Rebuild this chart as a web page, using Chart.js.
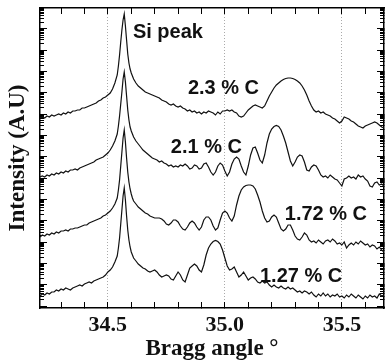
<!DOCTYPE html>
<html>
<head>
<meta charset="utf-8">
<script src="https://cdn.jsdelivr.net/npm/chart.js@4.4.0/dist/chart.umd.min.js"></script>
<style>
  html, body { margin: 0; padding: 0; background: #fff; }
  canvas { display: block; }
</style>
</head>
<body>
<canvas id="xrd-chart" width="386" height="364"></canvas>
<script>
// Bragg angle (deg), denser sampling around the Si peak
const angles = [
  34.21, 34.22, 34.23, 34.24, 34.25, 34.26, 34.27, 34.28, 34.29, 34.30,
  34.31, 34.32, 34.33, 34.34, 34.35, 34.36, 34.37, 34.38, 34.39, 34.40,
  34.41, 34.42, 34.43, 34.44, 34.45, 34.46, 34.47, 34.48, 34.49, 34.50,
  34.51, 34.52, 34.53,
  34.54, 34.545, 34.55, 34.555, 34.56, 34.565, 34.57, 34.575, 34.58, 34.585, 34.59, 34.595, 34.60, 34.605, 34.61,
  34.62, 34.63, 34.64, 34.65, 34.66, 34.67, 34.68, 34.69, 34.70, 34.71,
  34.72, 34.73, 34.74, 34.75, 34.76, 34.77, 34.78, 34.79, 34.80, 34.81,
  34.82, 34.83, 34.84, 34.85, 34.86, 34.87, 34.88, 34.89, 34.90, 34.91,
  34.92, 34.93, 34.94, 34.95, 34.96, 34.97, 34.98, 34.99, 35.00, 35.01,
  35.02, 35.03, 35.04, 35.05, 35.06, 35.07, 35.08, 35.09, 35.10, 35.11,
  35.12, 35.13, 35.14, 35.15, 35.16, 35.17, 35.18, 35.19, 35.20, 35.21,
  35.22, 35.23, 35.24, 35.25, 35.26, 35.27, 35.28, 35.29, 35.30, 35.31,
  35.32, 35.33, 35.34, 35.35, 35.36, 35.37, 35.38, 35.39, 35.40, 35.41,
  35.42, 35.43, 35.44, 35.45, 35.46, 35.47, 35.48, 35.49, 35.50, 35.51,
  35.52, 35.53, 35.54, 35.55, 35.56, 35.57, 35.58, 35.59, 35.60, 35.61,
  35.62, 35.63, 35.64, 35.65, 35.66, 35.67, 35.68
]

// intensity (a.u., curves offset vertically)
const c23 = [
  190, 191, 190, 192, 191, 193, 192, 193, 194, 193,
  195, 194, 196, 195, 197, 197, 198, 198, 200, 200,
  201, 202, 203, 204, 205, 207, 208, 210, 211, 213,
  215, 219, 225,
  233, 242, 253, 266, 278, 288, 294, 282, 268, 254, 245, 239, 235, 232, 229,
  225, 222, 220, 218, 216, 215, 214, 213, 212, 211,
  210, 208, 207, 206, 204, 203, 204, 202, 201, 202,
  200, 199, 197, 198, 196, 197, 195, 196, 194, 196,
  195, 197, 196, 195, 193, 196, 194, 197, 197, 198,
  197, 198, 196, 195, 192, 191, 192, 195, 198, 200,
  202, 203, 202, 201, 200, 202, 207, 212, 216, 220,
  223, 225, 227, 228.5, 229.5, 230, 230, 229.5, 228.5, 227,
  225, 222, 218, 213, 207, 202, 198, 196, 197, 195,
  196, 194, 193, 192, 190, 189, 187, 185, 187, 191,
  190, 189, 187, 186, 184, 182, 181, 180, 182, 183,
  184, 185, 186, 185, 183, 181, 180
]
const c21 = [
  131, 132, 131, 133, 132, 134, 133, 135, 134, 136,
  135, 137, 136, 138, 138, 139, 138, 140, 141, 142,
  143, 144, 145, 146, 148, 149, 150, 151, 153, 155,
  158, 162, 167,
  174, 182, 192, 204, 216, 229, 236, 226, 212, 198, 188, 181, 177, 174, 171,
  167, 164, 161, 158, 156, 154, 152, 150, 149, 148,
  146, 147, 145, 144, 142, 143, 141, 142, 141, 143,
  142, 144, 142, 139, 140, 143, 142, 139, 140, 144,
  145, 141, 136, 133, 136, 142, 145, 143, 137, 132,
  136, 144, 149, 151, 149, 142, 136, 133, 142, 153,
  160, 161, 155, 148, 145, 153, 165, 174, 179, 181.5,
  182.5, 181.5, 178, 172, 165, 156, 147, 142, 146, 151,
  153, 152, 146, 138, 137, 141, 143, 142, 138, 133,
  131, 132, 130, 133, 131, 129, 128, 125, 122, 129,
  130, 132, 130, 131, 129, 133, 131, 132, 129, 127,
  122, 121, 125, 126, 123, 124, 122
]
const c172 = [
  71, 73, 72, 74, 73, 75, 74, 76, 75, 77,
  77, 78, 77, 79, 79, 80, 80, 81, 82, 83,
  83, 85, 86, 87, 88, 89, 90, 92, 93, 95,
  97, 100, 104,
  110, 118, 128, 142, 156, 170, 178, 166, 150, 136, 126, 119, 114, 110, 107,
  104, 101, 99, 97, 95, 94, 92, 91, 90, 90,
  90, 89, 87, 84, 83, 85, 88, 88, 86, 82,
  79, 78, 81, 85, 87, 85, 81, 78, 81, 88,
  91, 91, 88, 82, 78, 80, 88, 95, 97, 95,
  90, 87, 92, 103, 112, 118, 121, 122.5, 123, 123,
  122, 119, 113, 106, 97, 90, 86, 87, 91, 93,
  91, 85, 79, 77, 79, 83, 83, 78, 72, 69,
  68, 71, 75, 73, 68, 66, 67, 65, 68, 66,
  64, 67, 68, 66, 69, 67, 64, 65, 63, 66,
  60, 63, 65, 63, 66, 64, 67, 65, 63, 64,
  61, 63, 62, 59, 61, 58, 56
]
const c127 = [
  12, 14, 13, 15, 14, 16, 16, 18, 17, 19,
  18, 20, 19, 18, 20, 21, 22, 23, 22, 24,
  25, 26, 25, 27, 28, 29, 30, 31, 33, 36,
  38, 41, 46,
  52, 60, 70, 84, 98, 112, 120, 108, 92, 78, 68, 61, 56, 53, 50,
  47, 44, 42, 40, 39, 37, 36, 37, 38, 36,
  33, 31, 32, 33, 32, 29, 28, 32, 36, 33,
  28, 26, 33, 40, 42, 44, 42, 38, 36, 43,
  53, 60, 64, 66.5, 67.5, 66.5, 64, 58, 50, 42,
  38, 39, 41, 36, 31, 33, 36, 32, 28, 30,
  31, 29, 26, 25, 27, 25, 26, 23, 21, 23,
  21, 20, 22, 20, 19, 21, 19, 20, 18, 16,
  17, 15, 17, 16, 14, 16, 13, 11, 14, 12,
  15, 12, 14, 11, 13, 12, 14, 11, 12, 10,
  13, 11, 14, 12, 10, 13, 11, 9, 12, 10,
  13, 11, 12, 10, 14, 12, 13
]

const seriesNames = ['2.3 % C', '2.1 % C', '1.72 % C', '1.27 % C']
const xTickLabels = ['34.5', '35.0', '35.5']

// label anchors in data units (left edge, vertical middle)
const notes = [
  { text: 'Si peak', x: 34.607, y: 276 },
  { text: seriesNames[0], x: 34.842, y: 220 },
  { text: seriesNames[1], x: 34.769, y: 161 },
  { text: seriesNames[2], x: 35.256, y: 94 },
  { text: seriesNames[3], x: 35.150, y: 32 }
]

const serif = '"Liberation Serif", "Times New Roman", serif'
const sans = '"Liberation Sans", Arial, sans-serif'

const ctx = document.getElementById('xrd-chart')

const notesPlugin = {
    id: 'notes',
    afterDatasetsDraw(chart) {
        const { ctx, scales } = chart
        ctx.save()
        ctx.font = 'bold 20px ' + sans
        ctx.fillStyle = '#111'
        ctx.textAlign = 'left'
        ctx.textBaseline = 'middle'
        notes.forEach(n => {
            ctx.fillText(n.text, scales.x.getPixelForValue(n.x), scales.y.getPixelForValue(n.y))
        })
        ctx.restore()
    }
}

function significand(v) {
    return v / Math.pow(10, Math.floor(Math.log10(v) + 1e-9))
}

// decorative log tick axes for the unlabelled intensity scale
function tickAxis(position, length, majorOnly) {
    return {
        type: 'logarithmic',
        position: position,
        min: 0.825,
        max: 9.38e13,
        weight: 0,
        ticks: { display: false },
        border: { display: false },
        grid: { drawOnChartArea: false, tickLength: length, tickColor: '#000', tickWidth: 1 },
        afterBuildTicks: s => {
            s.ticks = s.ticks.filter(t => {
                const m = significand(t.value)
                return majorOnly ? Math.abs(m - 1) < 1e-6 : Math.abs(m - Math.round(m)) < 1e-6
            })
        },
        afterFit: s => { s.width = 0 }
    }
}

const isLabelled = v => xTickLabels.includes(Number(v).toFixed(1))

const xrdChart = new Chart(ctx, {
    type: 'line',
    data: {
        datasets: [c23, c21, c172, c127].map((vals, k) => ({
            label: seriesNames[k],
            data: angles.map((a, i) => ({ x: a, y: vals[i] })),
            borderColor: '#111',
            borderWidth: 1.2,
            pointRadius: 0,
            tension: 0,
            fill: false
        }))
    },
    options: {
        responsive: false,
        animation: false,
        devicePixelRatio: 1,
        layout: { padding: { top: 8, right: 2, left: 0, bottom: 0 } },
        plugins: { legend: { display: false }, tooltip: { enabled: false } },
        scales: {
            x: {
                type: 'linear',
                position: 'bottom',
                min: 34.21,
                max: 35.68,
                ticks: {
                    stepSize: 0.1,
                    includeBounds: false,
                    autoSkip: false,
                    maxRotation: 0,
                    padding: 10,
                    color: '#111',
                    font: { family: serif, size: 22, weight: 'bold' },
                    callback: v => isLabelled(v) ? Number(v).toFixed(1) : ''
                },
                grid: {
                    drawOnChartArea: true,
                    color: c => isLabelled(c.tick.value) ? '#aaa' : 'rgba(0,0,0,0)',
                    tickColor: '#000',
                    tickLength: -6,
                    lineWidth: 1
                },
                border: { display: true, color: '#000', width: 1.5, dash: [1, 2] },
                title: {
                    display: true,
                    text: 'Bragg angle \u00b0',
                    color: '#111',
                    padding: { top: 0, bottom: 1 },
                    font: { family: serif, size: 23, weight: 'bold' }
                },
                afterFit: s => { s.height = 56 }
            },
            x2: {
                type: 'linear',
                position: 'top',
                min: 34.21,
                max: 35.68,
                ticks: { display: false, stepSize: 0.1, includeBounds: false, autoSkip: false },
                grid: { drawOnChartArea: false, tickColor: '#000', tickLength: -6 },
                border: { display: true, color: '#000', width: 1.5 },
                afterFit: s => { s.height = 0 }
            },
            y: {
                type: 'linear',
                position: 'left',
                min: 0,
                max: 300,
                weight: 10,
                ticks: { display: false },
                grid: { display: false },
                border: { display: true, color: '#000', width: 1.5 },
                title: {
                    display: true,
                    text: 'Intensity (A.U)',
                    color: '#111',
                    padding: { top: 4, bottom: 0 },
                    font: { family: serif, size: 23, weight: 'bold' }
                },
                afterFit: s => { s.width = 40 }
            },
            yl: tickAxis('left', -4, false),
            ylMajor: tickAxis('left', -7, true),
            yr: Object.assign(tickAxis('right', -4, false), { border: { display: true, color: '#000', width: 1.5 } }),
            yrMajor: tickAxis('right', -7, true)
        }
    },
    plugins: [notesPlugin]
})
</script>
</body>
</html>
